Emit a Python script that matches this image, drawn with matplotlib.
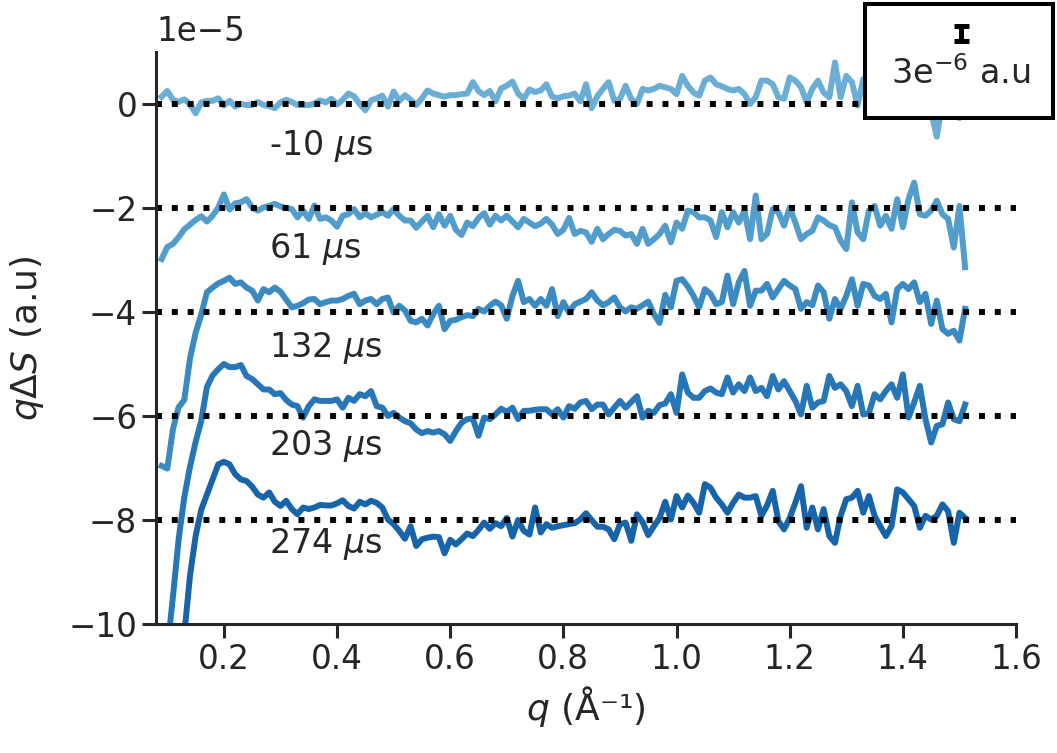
import numpy as np
import matplotlib
matplotlib.use("Agg")
import matplotlib.pyplot as plt
from matplotlib.patches import Rectangle

# q grid (1/Angstrom)
q = np.round(np.linspace(0.09, 1.51, 143), 2)

# difference curves, units of 1e-6 (before vertical offset)
s_m10 = [
    1.4, 2.5, 0.8, 0.4, 0.9, 0.0, -1.8, 0.3, 0.6, 0.6,
    1.1, -0.3, 0.6, -0.5, 0.0, -0.2, -0.2, 0.4, -0.2, -0.4,
    -0.8, 0.3, 0.8, 0.4, -0.2, -0.2, -0.2, 0.1, 0.7, 0.3,
    1.0, -0.1, 0.8, 2.0, 1.5, 0.0, -1.2, 0.7, 1.1, 1.6,
    -0.5, 2.4, 0.6, 1.7, 0.8, -0.2, 1.1, 2.6, 2.0, 1.7,
    1.4, 1.7, 1.7, 1.9, 2.0, 4.2, 2.5, 1.7, 2.5, 0.5,
    3.0, 3.5, 4.3, 2.0, 1.0, 2.8, 2.3, 2.6, 3.8, 1.4,
    1.1, 1.5, 1.6, 2.0, 0.5, 3.8, -0.8, 1.5,
    2.9, 4.2, 0.6, 1.0, 3.5, 1.0, 0.0, 2.9, 2.6, 2.9,
    3.5, 3.2, 2.9, 1.9, 5.4, 3.5, 2.2, 1.6, 4.5, 5.1,
    3.8, 3.4, 2.9, 2.6, 2.9, 1.9, 0.0, 1.3, 4.5, 4.5,
    3.8, 1.3, 1.0, 5.1, 4.5, 3.2, 0.3, 2.9, 4.5, 2.2,
    1.3, 8.0, 1.3, 5.4, 4.2, -0.3, 4.8,
    3.0, 1.5, 4.0, 2.5, 3.5, 1.0, 4.5, 2.0, 3.0, 0.5,
    1.5, -1.5, -6.3, 0.5, -1.0, -0.5, -2.7, -1.0,
]
s_61 = [
    -9.8, -7.5, -6.9, -5.6, -4.1, -3.2, -2.3, -1.6, -2.6, -1.5,
    0.1, 2.6, -0.3, 0.9, 1.1, 1.7, 0.1, -0.5, 0.1, 0.4,
    0.8, 0.3, 0.0, -0.2, -1.8, -0.5, -2.1, 0.5, -2.1, -1.8,
    -2.4, -3.6, -1.5, -1.2, -0.2, -1.8, -1.0, -1.8, -1.3, -0.8,
    -1.5, -0.2, -1.5, -2.4, -2.4, -3.8, -2.6, -1.5, -3.7, -1.2,
    -3.4, -1.5, -4.2, -5.2, -2.8, -3.5, -1.9, -1.0, -3.2, -1.5,
    -2.4, -1.5, -2.6, -3.7, -2.1, -2.8, -3.5, -3.0, -2.1, -3.2,
    -5.0, -4.2, -1.9, -5.0, -4.4, -4.7, -6.5, -4.0,
    -6.0, -5.0, -4.2, -4.4, -5.3, -5.0, -6.9, -4.0, -6.9, -6.0,
    -5.0, -3.4, -6.6, -2.8, -4.0, -0.5, -0.8, -1.8, -1.8, -2.4,
    -5.6, -0.8, -3.7, -0.8, -2.8, -0.5, -6.0, 2.4, -6.0, -5.0,
    -0.2, -0.8, -3.4, 0.1, -2.8, -6.0, -5.0, -4.4, -1.8, -2.4,
    -3.3, -3.7, -6.3, -7.9, 1.1, -4.7, -6.0, -0.5, 0.4, -3.4,
    -1.5, -4.0, 1.7, -3.7, 1.7, 4.9, -1.2, -1.5, -0.5, 1.4,
    -1.2, -2.1, -7.6, 0.4, -11.4,
]
s_132 = [
    -29.6, -30.1, -22.5, -18.3, -16.9, -9.0, -4.0, -0.5, 3.8, 4.7,
    5.5, 6.0, 6.6, 5.4, 5.7, 4.7, 4.1, 2.2, 4.4, 3.8,
    4.7, 3.9, 2.4, 0.9, 1.2, 1.7, 2.4, 2.5, 1.5, 1.9,
    2.2, 2.2, 2.5, 3.1, 3.5, 1.5, 2.2, 2.5, 1.5, 2.5,
    2.8, -0.1, 1.2, 0.3, -1.7, -2.0, -1.3, -2.6, -0.4, 1.2,
    -3.3, -1.7, -1.5, -1.0, -0.6, -0.8, 0.6, 0.1, 1.2, 2.0,
    1.3, -1.3, 3.1, 6.0, 1.9, 2.5, 1.2, 2.5, 1.2, 4.4,
    -0.8, 1.9, -0.1, 1.5, 2.0, 2.5, 3.8, 2.2,
    1.3, 1.9, 2.8, 0.9, 0.1, 0.9, 0.6, 1.3, 2.0, -0.4,
    -2.1, 3.3, 0.9, 6.0, 6.3, 4.9, 3.1, 0.9, 4.4, 3.5,
    1.5, 1.9, 7.0, 1.5, 5.7, 7.9, 1.2, 4.1, 4.1, 5.4,
    2.8, 4.4, 6.0, 5.1, 4.4, 0.6, 1.9, 1.3, 5.1, 3.8,
    -1.3, 2.5, 0.6, 3.1, 6.3, 1.2, 5.4, 5.1, 3.1, 2.5,
    3.5, -2.0, 4.4, 5.4, 4.4, 5.7, 1.9, 3.5, -2.3, 2.2,
    -3.3, -4.2, -3.6, -5.5, 0.6,
]
s_203 = [
    -55.0, -45.0, -34.7, -23.7, -15.6, -9.8, -5.0, -0.9, 5.6, 7.8,
    9.0, 10.0, 9.4, 9.4, 9.8, 7.7, 7.1, 6.1, 5.1, 5.1,
    4.2, 4.4, 3.1, 2.2, 1.9, -0.3, 1.9, 3.2, 2.9, 2.9,
    2.9, 3.2, 1.6, 3.5, 2.9, 4.2, 3.8, 4.8, 1.9, 1.6,
    0.0, 0.6, -0.3, -1.0, -1.4, -2.6, -3.3, -2.9, -3.2, -2.9,
    -3.5, -4.8, -2.9, -1.3, -0.6, -0.5, -3.8, -0.3, -0.6, 0.3,
    1.4, 0.8, 1.6, -0.6, 1.0, 1.0, 1.2, 1.3, 1.3, 0.3,
    1.3, -0.3, 1.9, 1.4, 2.6, 2.9, 1.3, 2.2,
    2.2, 0.3, 1.6, 2.9, 1.6, 2.7, 3.8, -0.3, 1.0, 0.6,
    2.1, 2.4, 4.2, 0.6, 8.0, 4.5, 3.5, 3.5, 4.8, 5.3,
    4.5, 4.2, 7.4, 4.5, 6.1, 4.8, 7.4, 4.8, 5.4, 3.8,
    7.7, 5.1, 6.7, 4.8, 2.9, 0.3, 5.8, 1.6, 2.6, 2.9,
    7.7, 5.4, 6.1, 4.8, 1.9, 5.8, 0.3, 0.5, 4.2, 3.2,
    4.8, 6.1, 3.5, 8.0, -0.3, 2.6, 5.8, -0.6, -5.1, -1.9,
    -1.6, 2.6, -0.6, -1.0, 2.2,
]
s_274 = [
    -62.0, -50.0, -40.0, -31.0, -22.0, -10.8, -3.1, 2.0, 4.9, 7.8,
    10.7, 11.2, 10.7, 8.8, 7.8, 7.5, 6.4, 4.9, 4.3, 5.3,
    3.5, 2.7, 3.7, 2.1, 1.1, 2.4, 2.1, 2.4, 2.9, 2.8,
    2.8, 3.2, 3.8, 2.7, 2.2, 3.5, 3.0, 3.7, 3.3, 2.4,
    0.1, -0.8, -2.1, -3.6, -1.2, -5.0, -3.7, -3.4, -3.2, -3.3,
    -6.4, -3.8, -4.7, -3.7, -2.6, -3.1, -1.9, -0.5, -1.7, -0.6,
    -1.2, 0.4, -3.2, 0.0, -2.1, -2.8, 2.4, -2.4, -0.8, -1.5,
    -1.2, -1.0, -0.8, -0.6, 0.1, 1.3, 0.0, -1.3,
    -1.3, -1.8, -3.7, -0.8, -0.5, -4.0, 1.1, -0.4, -2.9, -1.2,
    0.4, 3.5, 0.1, 4.6, 2.4, 4.7, 3.3, 1.4, 6.9, 6.2,
    4.3, 3.0, 1.4, 3.3, 4.9, 4.3, 4.3, 4.6, 0.8, 2.8,
    5.6, -0.2, -1.8, 0.4, 3.3, 6.5, -1.5, 2.4, -1.8, 2.1,
    -3.1, -4.4, 0.8, 4.0, 4.3, 5.6, 1.4, 4.6, 0.8, -1.2,
    -3.1, -1.2, 5.9, 5.3, 4.0, 2.7, -1.5, 0.8, 0.1, 0.8,
    3.0, 1.7, -4.4, 1.4, 0.4,
]

delays = ["-10", "61", "132", "203", "274"]
offsets = [0.0, -2e-5, -4e-5, -6e-5, -8e-5]
label_y = [-0.98e-5, -2.96e-5, -4.87e-5, -6.75e-5, -8.63e-5]
scale_bar = 3e-6

curves = [s_m10, s_61, s_132, s_203, s_274]
colors = plt.cm.Blues(np.linspace(0.5, 0.8, len(curves)))
txt = "#262626"

plt.rcParams["font.family"] = "DejaVu Sans"
plt.rcParams["mathtext.fontset"] = "dejavusans"

fig = plt.figure(figsize=(10.57, 7.53), dpi=100)
ax = fig.add_axes([156 / 1057, 1 - 624 / 753, 860 / 1057, 572 / 753])

for s, off, c in zip(curves, offsets, colors):
    ax.plot(q, np.array(s) * 1e-6 + off, color=c, lw=4.3)

for off in offsets:
    ax.axhline(off, color="black", ls=":", lw=4.3)

for d, y in zip(delays, label_y):
    ax.text(0.28, y, d + r" $\mu$s", fontsize=24, color=txt, ha="left", va="baseline")

ax.set_xlim(0.08, 1.6)
ax.set_ylim(-1e-4, 1e-5)
ax.set_xticks([0.2, 0.4, 0.6, 0.8, 1.0, 1.2, 1.4, 1.6])
ax.set_yticks([0, -2e-5, -4e-5, -6e-5, -8e-5, -1e-4])
ax.ticklabel_format(axis="y", style="sci", scilimits=(-5, -5))
ax.set_xlabel(r"$q$ (Å⁻¹)", fontsize=26, color=txt, labelpad=6)
ax.set_ylabel(r"$q\Delta S$ (a.u)", fontsize=26, color=txt, labelpad=16)
ax.tick_params(labelsize=23.5, labelcolor=txt, length=10, width=2.2, color=txt)
ax.yaxis.get_offset_text().set_fontsize(23.5)
ax.yaxis.get_offset_text().set_color(txt)
ax.yaxis.OFFSETTEXTPAD = 8
for side in ["top", "right"]:
    ax.spines[side].set_visible(False)
for side in ["left", "bottom"]:
    ax.spines[side].set_linewidth(2.2)
    ax.spines[side].set_color(txt)

# scale bar box
box = Rectangle((865 / 1057, 1 - 118 / 753), 188 / 1057, 114 / 753,
                transform=fig.transFigure, facecolor="white", edgecolor="black",
                lw=2.9, zorder=10, clip_on=False)
ax.add_patch(box)
eb = ax.errorbar(1.503, 1.356e-5, yerr=scale_bar / 2, fmt="none", ecolor="black",
                 elinewidth=3.6, capsize=5.4, capthick=3.6, zorder=11)
for art in eb.get_children():
    art.set_clip_on(False)
ax.text(1.503, 0.58e-5, r"3e$^{-6}$ a.u", fontsize=24, color=txt,
        ha="center", va="center", zorder=12)

fig.savefig("out.png", dpi=100)
